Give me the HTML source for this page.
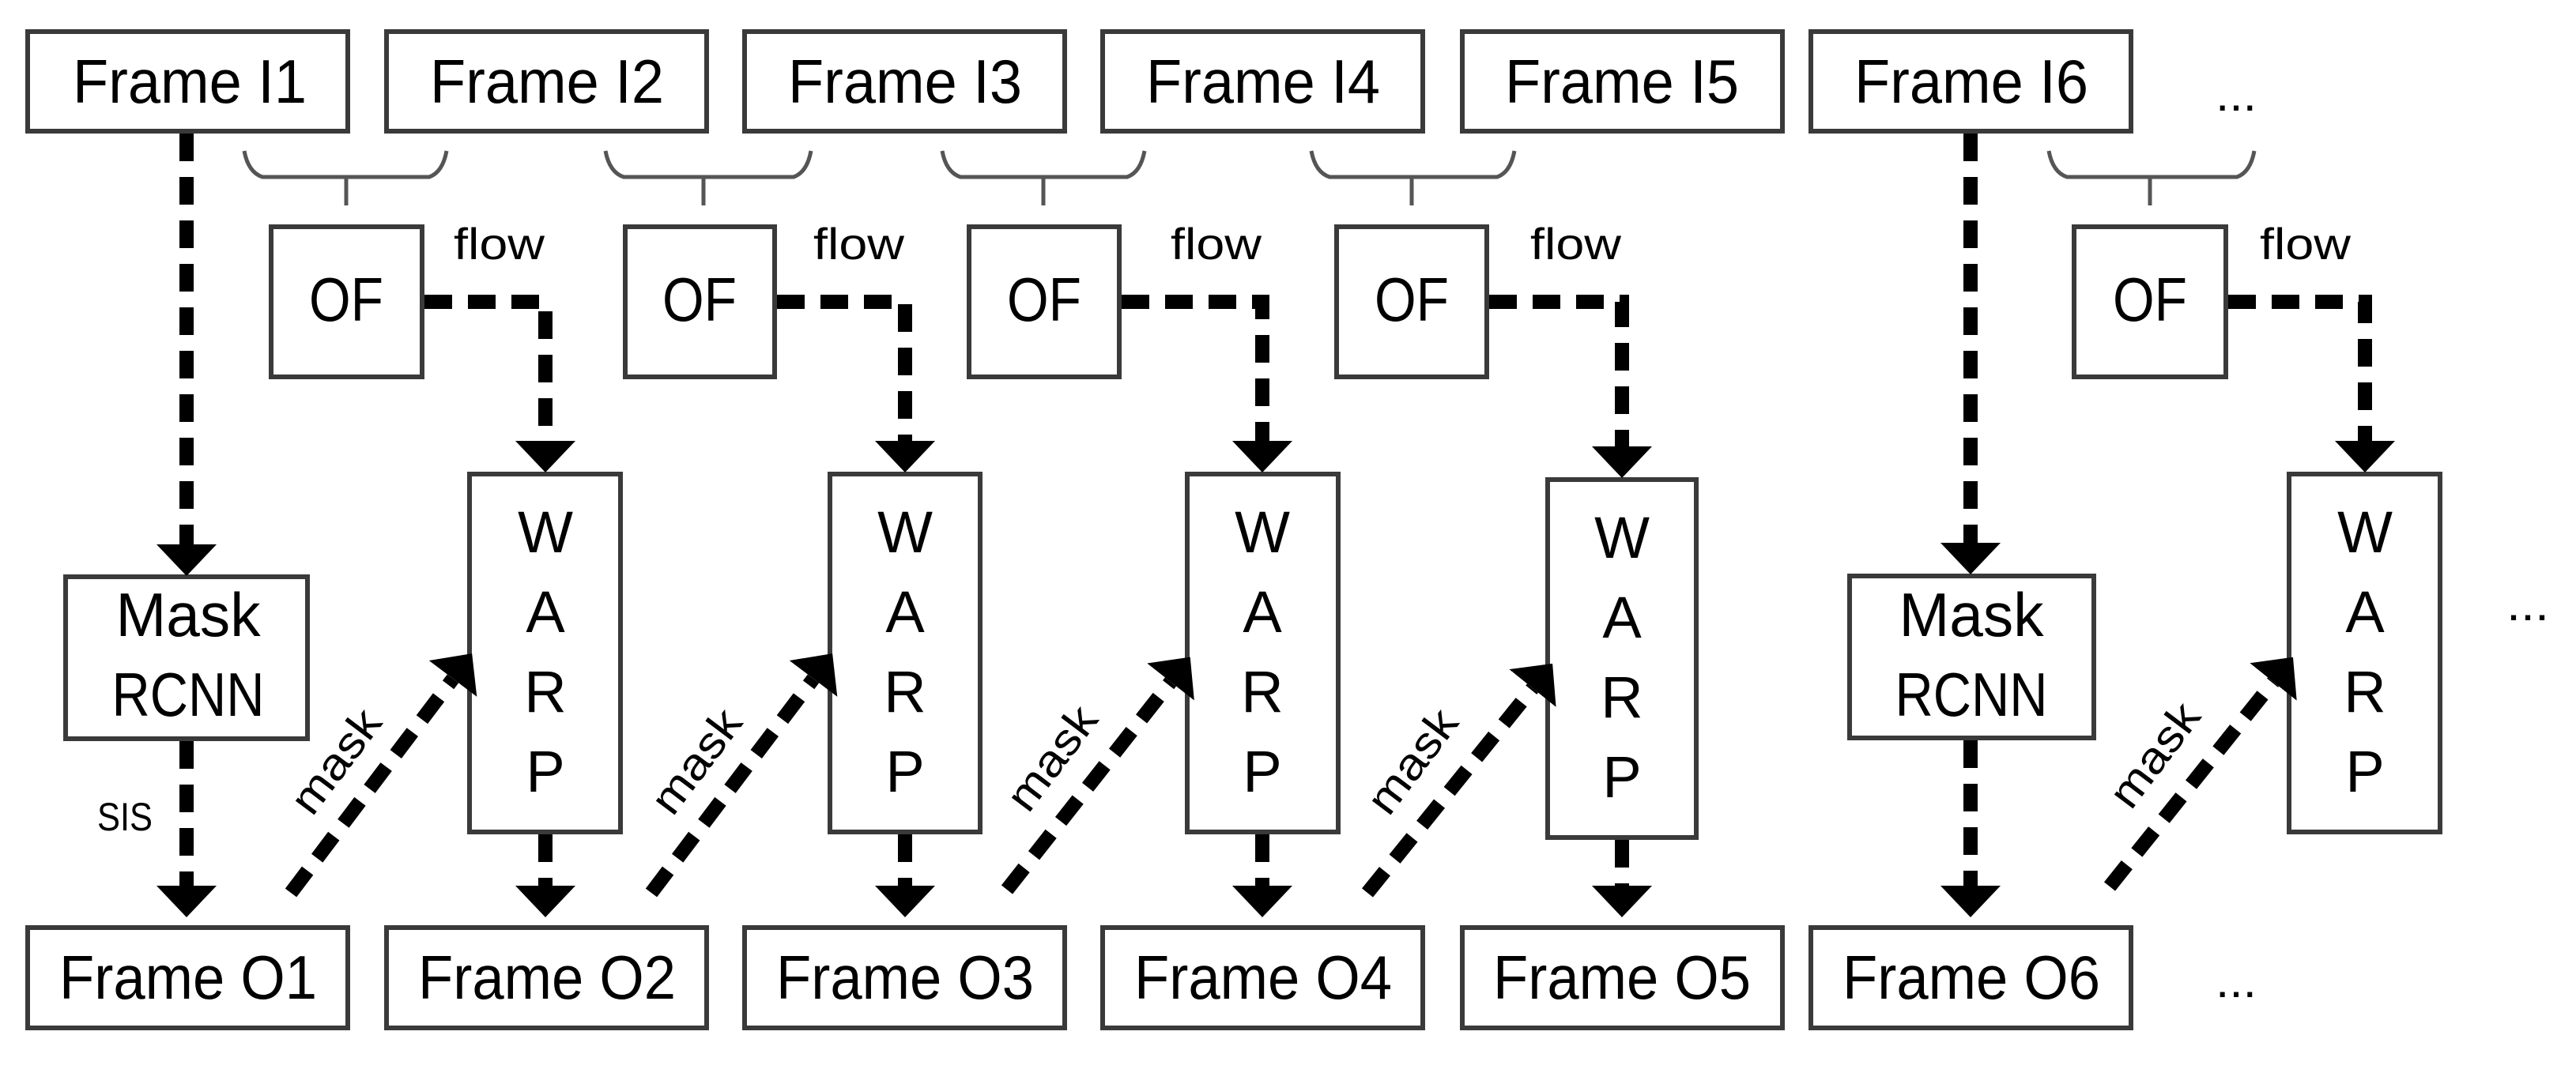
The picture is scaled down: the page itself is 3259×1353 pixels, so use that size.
<!DOCTYPE html>
<html><head><meta charset="utf-8"><style>html,body{margin:0;padding:0;background:#fff}svg{display:block}</style></head>
<body>
<svg width="3259" height="1353" viewBox="0 0 3259 1353" xmlns="http://www.w3.org/2000/svg" font-family="'Liberation Sans', sans-serif">
<defs>
<marker id="ah" markerUnits="userSpaceOnUse" viewBox="0 -38 40 76" markerWidth="40" markerHeight="76" refX="0" refY="0" orient="auto">
<path d="M0,-38 L40,0 L0,38 z" fill="#000"/>
</marker>
</defs>
<g fill="#fff" stroke="#3a3a3a" stroke-width="6">
<rect x="35" y="40" width="405" height="126"/>
<rect x="489" y="40" width="405" height="126"/>
<rect x="942" y="40" width="405" height="126"/>
<rect x="1395" y="40" width="405" height="126"/>
<rect x="1850" y="40" width="405" height="126"/>
<rect x="2291" y="40" width="405" height="126"/>
<rect x="35" y="1174" width="405" height="127"/>
<rect x="489" y="1174" width="405" height="127"/>
<rect x="942" y="1174" width="405" height="127"/>
<rect x="1395" y="1174" width="405" height="127"/>
<rect x="1850" y="1174" width="405" height="127"/>
<rect x="2291" y="1174" width="405" height="127"/>
<rect x="343" y="287" width="191" height="190"/>
<rect x="791" y="287" width="189" height="190"/>
<rect x="1226" y="287" width="190" height="190"/>
<rect x="1691" y="287" width="190" height="190"/>
<rect x="2624" y="287" width="192" height="190"/>
<rect x="594" y="600" width="191" height="453"/>
<rect x="1050" y="600" width="190" height="453"/>
<rect x="1502" y="600" width="191" height="453"/>
<rect x="1958" y="607" width="188" height="453"/>
<rect x="2896" y="600" width="191" height="453"/>
<rect x="83" y="730" width="306" height="205"/>
<rect x="2340" y="729" width="309" height="205"/>
</g>
<g fill="none" stroke="#555" stroke-width="5">
<path d="M309,191 Q314,218 332,224 L543,224 Q560,218 565,191 M438,224 L438,260"/>
<path d="M766,191 Q771,218 789,224 L1004,224 Q1021,218 1026,191 M890,224 L890,260"/>
<path d="M1192,191 Q1197,218 1215,224 L1426,224 Q1443,218 1448,191 M1320,224 L1320,260"/>
<path d="M1659,191 Q1664,218 1682,224 L1894,224 Q1911,218 1916,191 M1786,224 L1786,260"/>
<path d="M2592,191 Q2597,218 2615,224 L2830,224 Q2847,218 2852,191 M2720,224 L2720,260"/>
</g>
<g fill="none" stroke="#000" stroke-width="18" stroke-dasharray="35 20">
<line x1="236" y1="169" x2="236" y2="689" marker-end="url(#ah)"/>
<line x1="236" y1="938" x2="236" y2="1121" marker-end="url(#ah)"/>
<line x1="2493" y1="169" x2="2493" y2="687" marker-end="url(#ah)"/>
<line x1="2493" y1="937" x2="2493" y2="1121" marker-end="url(#ah)"/>
<line x1="690" y1="1056" x2="690" y2="1121" marker-end="url(#ah)"/>
<line x1="1145" y1="1056" x2="1145" y2="1121" marker-end="url(#ah)"/>
<line x1="1597" y1="1056" x2="1597" y2="1121" marker-end="url(#ah)"/>
<line x1="2052" y1="1063" x2="2052" y2="1121" marker-end="url(#ah)"/>
<path d="M537,382 L690,382 L690,558" marker-end="url(#ah)"/>
<path d="M983,382 L1145,382 L1145,558" marker-end="url(#ah)"/>
<path d="M1419,382 L1597,382 L1597,558" marker-end="url(#ah)"/>
<path d="M1884,382 L2052,382 L2052,565" marker-end="url(#ah)"/>
<path d="M2819,382 L2992,382 L2992,558" marker-end="url(#ah)"/>
<line x1="368" y1="1130" x2="573" y2="859" marker-end="url(#ah)"/>
<line x1="824" y1="1130" x2="1029" y2="859" marker-end="url(#ah)"/>
<line x1="1274" y1="1126" x2="1481" y2="863" marker-end="url(#ah)"/>
<line x1="1730" y1="1130" x2="1939" y2="871" marker-end="url(#ah)"/>
<line x1="2669" y1="1122" x2="2876" y2="863" marker-end="url(#ah)"/>
</g>
<g fill="#000" font-size="78" text-anchor="middle">
<text x="240" y="130" textLength="296" lengthAdjust="spacingAndGlyphs">Frame I1</text>
<text x="692" y="130" textLength="296" lengthAdjust="spacingAndGlyphs">Frame I2</text>
<text x="1145" y="130" textLength="296" lengthAdjust="spacingAndGlyphs">Frame I3</text>
<text x="1598" y="130" textLength="296" lengthAdjust="spacingAndGlyphs">Frame I4</text>
<text x="2052" y="130" textLength="296" lengthAdjust="spacingAndGlyphs">Frame I5</text>
<text x="2494" y="130" textLength="296" lengthAdjust="spacingAndGlyphs">Frame I6</text>
<text x="238" y="1264" textLength="326" lengthAdjust="spacingAndGlyphs">Frame O1</text>
<text x="692" y="1264" textLength="326" lengthAdjust="spacingAndGlyphs">Frame O2</text>
<text x="1145" y="1264" textLength="326" lengthAdjust="spacingAndGlyphs">Frame O3</text>
<text x="1598" y="1264" textLength="326" lengthAdjust="spacingAndGlyphs">Frame O4</text>
<text x="2052" y="1264" textLength="326" lengthAdjust="spacingAndGlyphs">Frame O5</text>
<text x="2494" y="1264" textLength="326" lengthAdjust="spacingAndGlyphs">Frame O6</text>
<text x="438" y="406" textLength="94" lengthAdjust="spacingAndGlyphs">OF</text>
<text x="885" y="406" textLength="94" lengthAdjust="spacingAndGlyphs">OF</text>
<text x="1321" y="406" textLength="94" lengthAdjust="spacingAndGlyphs">OF</text>
<text x="1786" y="406" textLength="94" lengthAdjust="spacingAndGlyphs">OF</text>
<text x="2720" y="406" textLength="94" lengthAdjust="spacingAndGlyphs">OF</text>
<text x="238" y="805" textLength="183" lengthAdjust="spacingAndGlyphs">Mask</text>
<text x="238" y="906" textLength="193" lengthAdjust="spacingAndGlyphs">RCNN</text>
<text x="2494" y="805" textLength="183" lengthAdjust="spacingAndGlyphs">Mask</text>
<text x="2494" y="906" textLength="193" lengthAdjust="spacingAndGlyphs">RCNN</text>
</g>
<g fill="#000" font-size="74" text-anchor="middle">
<text x="690" y="699">W</text><text x="690" y="800">A</text><text x="690" y="901">R</text><text x="690" y="1002">P</text>
<text x="1145" y="699">W</text><text x="1145" y="800">A</text><text x="1145" y="901">R</text><text x="1145" y="1002">P</text>
<text x="1597" y="699">W</text><text x="1597" y="800">A</text><text x="1597" y="901">R</text><text x="1597" y="1002">P</text>
<text x="2052" y="706">W</text><text x="2052" y="807">A</text><text x="2052" y="908">R</text><text x="2052" y="1009">P</text>
<text x="2992" y="699">W</text><text x="2992" y="800">A</text><text x="2992" y="901">R</text><text x="2992" y="1002">P</text>
</g>
<g fill="#000" font-size="56">
<text x="574" y="328" textLength="115" lengthAdjust="spacingAndGlyphs">flow</text>
<text x="1029" y="328" textLength="115" lengthAdjust="spacingAndGlyphs">flow</text>
<text x="1481" y="328" textLength="115" lengthAdjust="spacingAndGlyphs">flow</text>
<text x="1936" y="328" textLength="115" lengthAdjust="spacingAndGlyphs">flow</text>
<text x="2859" y="328" textLength="115" lengthAdjust="spacingAndGlyphs">flow</text>
<text x="123" y="1051" font-size="50" textLength="70" lengthAdjust="spacingAndGlyphs">SIS</text>
<text x="2803" y="140" font-size="60" textLength="52" lengthAdjust="spacingAndGlyphs">...</text>
<text x="3171" y="785" font-size="60" textLength="54" lengthAdjust="spacingAndGlyphs">...</text>
<text x="2803" y="1262" font-size="60" textLength="52" lengthAdjust="spacingAndGlyphs">...</text>
</g>
<g fill="#000" font-size="56" text-anchor="middle">
<text transform="translate(440,975) rotate(-53)" textLength="150" lengthAdjust="spacingAndGlyphs">mask</text>
<text transform="translate(896,975) rotate(-53)" textLength="150" lengthAdjust="spacingAndGlyphs">mask</text>
<text transform="translate(1346,971) rotate(-53)" textLength="150" lengthAdjust="spacingAndGlyphs">mask</text>
<text transform="translate(1802,975) rotate(-53)" textLength="150" lengthAdjust="spacingAndGlyphs">mask</text>
<text transform="translate(2741,967) rotate(-53)" textLength="150" lengthAdjust="spacingAndGlyphs">mask</text>
</g>
</svg>
</body></html>
